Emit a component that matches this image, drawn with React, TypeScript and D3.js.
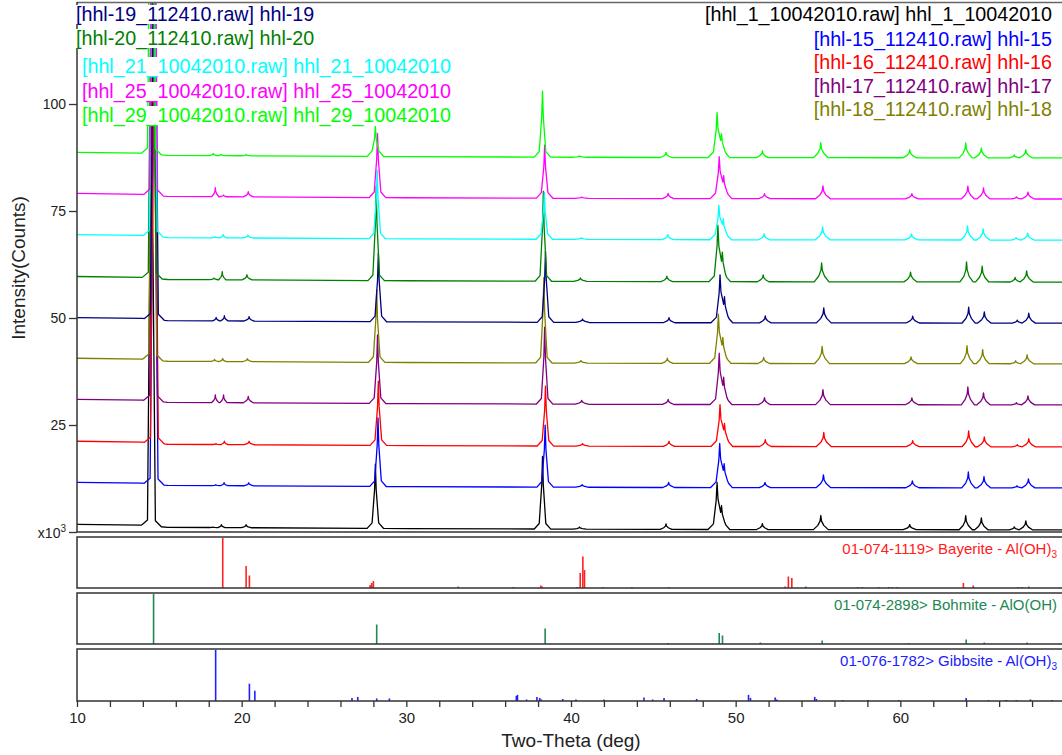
import React, { useEffect, useRef } from 'react'
import * as d3 from 'd3'

const width = 1062
const height = 755

// sample peaks, 2-theta (deg) and half width of the foot (deg)
const peakPos = [14.6, 18.35, 18.85, 20.35, 28.2, 38.35, 40.6, 45.85, 48.95, 49.22, 51.7, 55.25, 60.65, 64.05, 65.0, 67.0, 67.7]
const peakWidth = [0.6, 0.22, 0.22, 0.3, 0.5, 0.5, 0.4, 0.35, 0.55, 0.5, 0.35, 0.45, 0.4, 0.4, 0.4, 0.3, 0.4]

// background above each scan's level (x10^3 counts)
const bgTheta = [10, 14, 15.5, 30, 45, 70]
const bgLevel = [1.3, 1.1, 0.6, 0.3, 0.1, 0]

const scanFiles = [
  '[hhl_1_10042010.raw] hhl_1_10042010',
  '[hhl-15_112410.raw] hhl-15',
  '[hhl-16_112410.raw] hhl-16',
  '[hhl-17_112410.raw] hhl-17',
  '[hhl-18_112410.raw] hhl-18',
  '[hhl-19_112410.raw] hhl-19',
  '[hhl-20_112410.raw] hhl-20',
  '[hhl_21_10042010.raw] hhl_21_10042010',
  '[hhl_25_10042010.raw] hhl_25_10042010',
  '[hhl_29_10042010.raw] hhl_29_10042010',
]
const scanColors = ['#000000', '#0000ff', '#ff0000', '#800080', '#808000', '#000080', '#008000', '#00ffff', '#ff00ff', '#00ff00']
const scanLevel = [0.5, 10.3, 19.9, 29.7, 39.3, 48.8, 58.4, 68.2, 77.8, 87.4]
const scanShift = [-0.08, 0.08, 0.1, 0.05, 0, 0.1, -0.03, 0.03, 0.05, -0.08]

// peak heights above background, same order as peakPos
const hhl1 = [130, 0.1, 0.7, 0.7, 15, 17, 0.5, 1.3, 10, 4.5, 1.4, 3.3, 1.2, 3.3, 2.8, 0.7, 2.1]
const hhl15 = [130, 0.2, 0.7, 0.7, 16, 14.5, 0.6, 1.2, 9.3, 4.5, 1.2, 3, 1.6, 3.7, 2.6, 0.5, 2.1]
const hhl16 = [130, 0.2, 0.8, 0.8, 15, 14, 0.6, 1.2, 8.8, 4.3, 1.6, 3.3, 1.4, 3.7, 2.3, 0.5, 1.9]
const hhl17 = [130, 1.8, 1.8, 1.5, 16, 18, 0.9, 1.2, 11, 5.3, 1.6, 3.5, 1.6, 4.2, 2.8, 0.5, 2.1]
const hhl18 = [130, 0.5, 0.7, 0.7, 17, 20, 0.6, 1.2, 10.5, 5, 1.4, 4, 1.6, 4.2, 3.3, 0.7, 2.1]
const hhl19 = [130, 0.8, 1.2, 1.0, 16, 16.6, 0.8, 1.2, 10.2, 5, 1.6, 3.5, 1.6, 3.7, 2.6, 0.7, 2.3]
const hhl20 = [130, 0.4, 1.9, 1.2, 22, 21, 0.8, 1.3, 12.2, 5.8, 1.6, 4.4, 2.3, 4.7, 3.7, 1.1, 2.6]
const hhl21 = [130, 0.3, 0.8, 0.7, 16, 11, 0.4, 1.2, 7.2, 3.8, 1.4, 3, 1.4, 3.3, 2.6, 0.6, 1.6]
const hhl25 = [130, 2.1, 0.4, 1.2, 15, 12.4, 0.3, 1.2, 8.8, 4.3, 1.2, 3, 1.2, 3, 2.6, 0.5, 1.6]
const hhl29 = [130, 0.5, 0.3, 0.3, 7, 15.4, 0.3, 1.2, 9.5, 4.5, 1.6, 3.5, 1.9, 3.5, 2.3, 0.7, 1.9]
const scanPeaks = [hhl1, hhl15, hhl16, hhl17, hhl18, hhl19, hhl20, hhl21, hhl25, hhl29]

// reference patterns: 2-theta and relative intensity
const bayeriteTheta = [18.85, 20.27, 20.47, 27.8, 27.9, 28.0, 33.15, 36.5, 38.17, 38.25, 40.36, 40.56, 40.72, 40.82, 41.94, 43.7, 45.93, 53.0, 53.2, 53.41, 54.26, 57.4, 57.7, 58.67, 59.3, 59.5, 59.8, 63.83, 64.43, 67.17, 67.4, 67.8]
const bayeriteInt = [100, 44, 25, 6, 10, 14, 3, 2, 5, 3, 2, 30, 63, 36, 2, 2, 2, 3, 23, 20, 3, 2, 2, 2, 2, 2, 2, 10, 5, 2, 2, 3]
const bohmiteTheta = [14.65, 28.2, 38.43, 45.9, 49.0, 49.2, 51.5, 55.25, 60.5, 64.0, 65.1, 67.7]
const bohmiteInt = [100, 39, 31, 2, 22, 17, 3, 7, 2, 9, 3, 3]
const gibbsiteTheta = [18.42, 20.47, 20.8, 26.7, 27.05, 28.2, 28.97, 36.68, 36.75, 37.3, 37.93, 38.1, 38.2, 39.5, 40.3, 42.0, 44.43, 44.96, 45.65, 47.63, 50.78, 50.9, 52.4, 52.5, 54.8, 54.9, 56.5, 58.05, 59.9, 64.0, 65.35, 66.4, 66.45, 67.05, 67.9, 69.2]
const gibbsiteInt = [100, 34, 20, 6, 8, 5, 5, 10, 12, 3, 8, 6, 3, 4, 3, 3, 7, 3, 6, 4, 12, 6, 7, 3, 8, 4, 2, 2, 2, 6, 2, 2, 2, 2, 3, 2]

const refNames = ['01-074-1119> Bayerite - Al(OH)', '01-074-2898> Bohmite - AlO(OH)', '01-076-1782> Gibbsite - Al(OH)']
const refSub = ['3', '', '3']
const refColors = ['#ff2020', '#208850', '#2020ff']

const yTicks = [0, 25, 50, 75, 100]
const xLabels = [10, 20, 30, 40, 50, 60]
const font = '"Liberation Sans", Arial, sans-serif'

const App = () => {
  const svgRef = useRef<SVGSVGElement>(null)

  useEffect(() => {
    const svg = d3.select(svgRef.current)
    svg.selectAll('*').remove()

    const left = 77
    const right = 1065
    const mainTop = 3
    const mainBottom = 532
    const panels = [
      [537, 588],
      [593, 644],
      [649, 701],
    ]

    const x = d3.scaleLinear().domain([10, 70]).range([left, right])
    const y = d3.scaleLinear().domain([0, 123.6]).range([mainBottom, mainTop])
    const bg = d3.scaleLinear().domain(bgTheta).range(bgLevel).clamp(true)

    svg.append('clipPath').attr('id', 'main-clip')
      .append('rect').attr('x', left).attr('y', mainTop).attr('width', right - left).attr('height', mainBottom - mainTop)

    const line = d3.line<[number, number]>().x(d => x(d[0])).y(d => y(d[1]))

    const scans = svg.append('g').attr('clip-path', 'url(#main-clip)')
    scanPeaks.forEach((heights, s) => {
      const shapes = peakPos.map((p, i) => {
        const c = p + scanShift[s]
        const w = peakWidth[i]
        const h = heights[i]
        const foot = Math.min(0.3 * h, 1.3)
        return d3.scaleLinear()
          .domain([c - w, c - 0.4 * w, c - 0.1 * w, c, c + 0.1 * w, c + 0.4 * w, c + w])
          .range([0, foot, 0.6 * h, h, 0.6 * h, foot, 0])
          .clamp(true)
      })
      const xs = Array.from(new Set([...bgTheta, ...shapes.flatMap(f => f.domain())])).sort((a, b) => a - b)
      const pts: [number, number][] = xs.map(t => [t, scanLevel[s] + bg(t) + d3.sum(shapes, f => f(t))])
      scans.append('path')
        .attr('d', line(pts))
        .attr('fill', 'none')
        .attr('stroke', scanColors[s])
        .attr('stroke-width', 1.3)
        .attr('stroke-linejoin', 'round')
    })

    // main frame
    svg.append('line').attr('x1', left).attr('x2', width).attr('y1', 2.5).attr('y2', 2.5)
      .attr('stroke', '#666').attr('stroke-width', 1.5)
    svg.append('line').attr('x1', left).attr('x2', left).attr('y1', 2).attr('y2', mainBottom)
      .attr('stroke', '#333').attr('stroke-width', 1.5)
    svg.append('line').attr('x1', left).attr('x2', width).attr('y1', mainBottom).attr('y2', mainBottom)
      .attr('stroke', '#333').attr('stroke-width', 1.5)

    // y axis
    const yAxis = svg.append('g')
      .attr('transform', `translate(${left},0)`)
      .call(d3.axisLeft(y).tickValues(yTicks).tickSize(8).tickPadding(3).tickFormat(d => (d === 0 ? '' : String(d))))
    yAxis.select('.domain').remove()
    yAxis.selectAll('line').attr('stroke', '#333').attr('stroke-width', 1.3)
    yAxis.selectAll('text').attr('font-family', font).attr('font-size', 14).attr('fill', '#222')

    const exp = svg.append('text')
      .attr('x', 66).attr('y', mainBottom + 6)
      .attr('text-anchor', 'end')
      .attr('font-family', font).attr('font-size', 14).attr('fill', '#222')
    exp.append('tspan').text('x10')
    exp.append('tspan').attr('dy', -6).attr('font-size', 10).text('3')

    svg.append('text')
      .attr('transform', 'translate(25,268) rotate(-90)')
      .attr('text-anchor', 'middle')
      .attr('font-family', font).attr('font-size', 19).attr('fill', '#222')
      .text('Intensity(Counts)')

    // reference panels
    const refData = [
      [bayeriteTheta, bayeriteInt],
      [bohmiteTheta, bohmiteInt],
      [gibbsiteTheta, gibbsiteInt],
    ]
    panels.forEach(([top, bottom], k) => {
      const py = d3.scaleLinear().domain([0, 100]).range([bottom, top + 1])
      const [thetas, ints] = refData[k]
      svg.append('g').selectAll('line').data(thetas).join('line')
        .attr('x1', d => x(d)).attr('x2', d => x(d))
        .attr('y1', bottom).attr('y2', (d, i) => py(ints[i]))
        .attr('stroke', refColors[k]).attr('stroke-width', 1.6)
      svg.append('path')
        .attr('d', `M${width + 5},${top}H${left}V${bottom}H${width + 5}`)
        .attr('fill', 'none').attr('stroke', '#333').attr('stroke-width', 1.5)
      const label = svg.append('text')
        .attr('x', 1057).attr('y', top + 17)
        .attr('text-anchor', 'end')
        .attr('font-family', font).attr('font-size', 15).attr('fill', refColors[k])
      label.append('tspan').text(refNames[k])
      if (refSub[k]) label.append('tspan').attr('dy', 4).attr('font-size', 10).text(refSub[k])
    })

    // x axis
    const xAxis = svg.append('g')
      .attr('transform', `translate(0,${panels[2][1]})`)
      .call(d3.axisBottom(x).tickValues(d3.range(10, 71, 2)).tickSize(6).tickPadding(5)
        .tickFormat(d => (xLabels.includes(+d) ? String(d) : '')))
    xAxis.select('.domain').remove()
    xAxis.selectAll('line').attr('stroke', '#333').attr('stroke-width', 1.3)
    xAxis.selectAll('text').attr('font-family', font).attr('font-size', 15).attr('fill', '#222')

    svg.append('text')
      .attr('x', 571).attr('y', 747)
      .attr('text-anchor', 'middle')
      .attr('font-family', font).attr('font-size', 19).attr('fill', '#222')
      .text('Two-Theta (deg)')

    // legends with white backing
    const legendLeft = [
      [5, 76, 21],
      [6, 76, 45],
      [7, 82, 73],
      [8, 82, 98],
      [9, 82, 122],
    ]
    const legendRight = [
      [0, 1052, 21],
      [1, 1052, 46],
      [2, 1052, 69],
      [3, 1052, 93],
      [4, 1052, 116],
    ]
    const legend = svg.append('g')
    const addLegend = (items: number[][], anchor: string) => {
      items.forEach(([s, lx, ly]) => {
        const bgRect = legend.append('rect').attr('fill', '#fff')
        const t = legend.append('text')
          .attr('x', lx).attr('y', ly)
          .attr('text-anchor', anchor)
          .attr('font-family', font).attr('font-size', 19.7)
          .attr('fill', scanColors[s])
          .text(scanFiles[s])
        const b = (t.node() as SVGTextElement).getBBox()
        bgRect.attr('x', b.x).attr('y', b.y + 2).attr('width', b.width).attr('height', b.height - 4)
      })
    }
    addLegend(legendLeft, 'start')
    addLegend(legendRight, 'end')
  }, [])

  return (
    <svg
      ref={svgRef}
      width={width}
      height={height}
      style={{ position: 'absolute', left: 0, top: 0, background: '#fff' }}
    />
  )
}

export default App
